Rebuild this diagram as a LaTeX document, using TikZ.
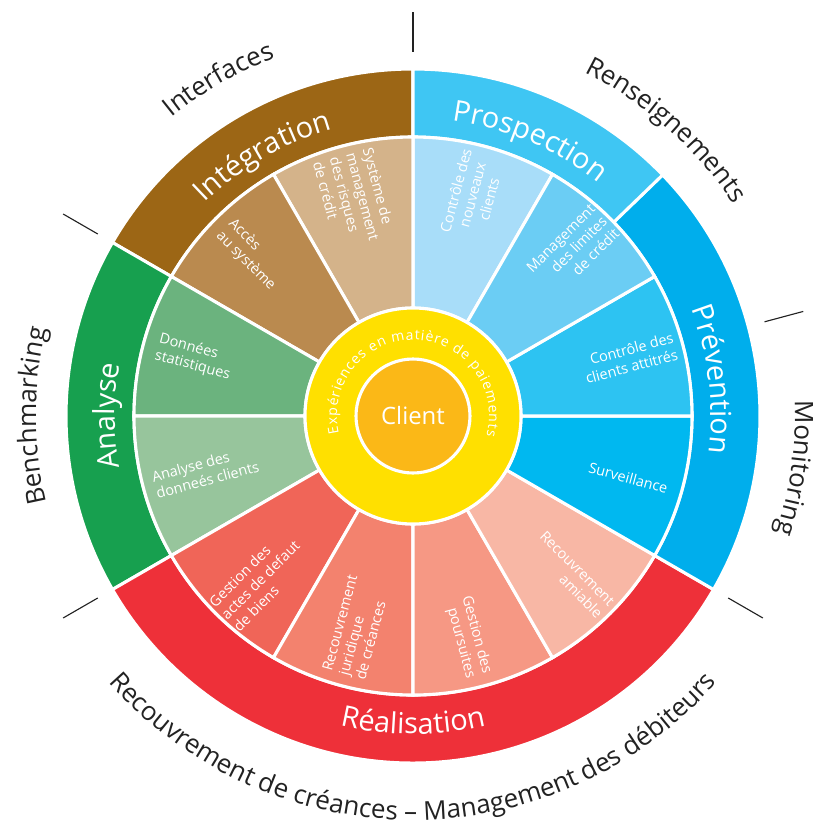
\documentclass[tikz,border=0pt]{standalone}
\usepackage{fontspec}
\setmainfont{Open Sans}
\usetikzlibrary{decorations.text}

\definecolor{integration}{HTML}{9C6615}
\definecolor{systeme}{HTML}{D4B38A}
\definecolor{acces}{HTML}{BA8A4F}
\definecolor{analyse}{HTML}{17A04F}
\definecolor{donnees}{HTML}{6BB37E}
\definecolor{analysedon}{HTML}{97C59C}
\definecolor{realisation}{HTML}{EE3039}
\definecolor{actes}{HTML}{F06558}
\definecolor{juridique}{HTML}{F3826E}
\definecolor{poursuites}{HTML}{F69884}
\definecolor{amiable}{HTML}{F8B7A5}
\definecolor{prevention}{HTML}{00AEEC}
\definecolor{surveillance}{HTML}{00B8F0}
\definecolor{attitres}{HTML}{2DC3F2}
\definecolor{limites}{HTML}{6BCDF4}
\definecolor{nouveaux}{HTML}{A8DDF9}
\definecolor{prospection}{HTML}{3FC6F3}
\definecolor{experiences}{HTML}{FFE000}
\definecolor{client}{HTML}{FBB817}
\definecolor{outertext}{HTML}{222222}

\tikzset{
  sector/.style={fill=#1, draw=white, line width=2.2pt},
  sectortext/.style={text=white, font=\fontsize{10.3}{12.2}\selectfont, inner sep=0pt},
  tickline/.style={line width=0.8pt, draw=outertext},
  outerlabel/.style={decorate, decoration={text along path, text align=center, text color=outertext,
      text={|\fontsize{18.5}{20}\selectfont|#1}}},
  ringlabel/.style={decorate, decoration={text along path, text align=center, text color=white,
      text={|\fontsize{20.6}{22}\selectfont|#1}}},
}

\begin{document}
\begin{tikzpicture}[x=0.025cm, y=0.025cm]
\useasboundingbox (-413,-407) rectangle (399,416);

% Drawing outer ring segment Integration
\draw [sector=integration] (90:279) arc[start angle=90, end angle=150, radius=279] -- (150:347) arc[start angle=150, end angle=90, radius=347] -- cycle;
% Drawing outer ring segment Analyse
\draw [sector=analyse] (150:279) arc[start angle=150, end angle=210, radius=279] -- (210:347) arc[start angle=210, end angle=150, radius=347] -- cycle;
% Drawing outer ring segment Realisation
\draw [sector=realisation] (210:279) arc[start angle=210, end angle=330, radius=279] -- (330:347) arc[start angle=330, end angle=210, radius=347] -- cycle;
% Drawing outer ring segment Prevention
\draw [sector=prevention] (-30:279) arc[start angle=-30, end angle=44, radius=279] -- (44:347) arc[start angle=44, end angle=-30, radius=347] -- cycle;
% Drawing outer ring segment Prospection
\draw [sector=prospection] (44:279) arc[start angle=44, end angle=90, radius=279] -- (90:347) arc[start angle=90, end angle=44, radius=347] -- cycle;

% Drawing sectors of the middle ring
\draw [sector=nouveaux] (60:108) arc[start angle=60, end angle=90, radius=108] -- (90:279) arc[start angle=90, end angle=60, radius=279] -- cycle;
\draw [sector=systeme] (90:108) arc[start angle=90, end angle=120, radius=108] -- (120:279) arc[start angle=120, end angle=90, radius=279] -- cycle;
\draw [sector=acces] (120:108) arc[start angle=120, end angle=150, radius=108] -- (150:279) arc[start angle=150, end angle=120, radius=279] -- cycle;
\draw [sector=donnees] (150:108) arc[start angle=150, end angle=180, radius=108] -- (180:279) arc[start angle=180, end angle=150, radius=279] -- cycle;
\draw [sector=analysedon] (180:108) arc[start angle=180, end angle=210, radius=108] -- (210:279) arc[start angle=210, end angle=180, radius=279] -- cycle;
\draw [sector=actes] (210:108) arc[start angle=210, end angle=240, radius=108] -- (240:279) arc[start angle=240, end angle=210, radius=279] -- cycle;
\draw [sector=juridique] (240:108) arc[start angle=240, end angle=270, radius=108] -- (270:279) arc[start angle=270, end angle=240, radius=279] -- cycle;
\draw [sector=poursuites] (270:108) arc[start angle=270, end angle=300, radius=108] -- (300:279) arc[start angle=300, end angle=270, radius=279] -- cycle;
\draw [sector=amiable] (300:108) arc[start angle=300, end angle=330, radius=108] -- (330:279) arc[start angle=330, end angle=300, radius=279] -- cycle;
\draw [sector=surveillance] (330:108) arc[start angle=330, end angle=360, radius=108] -- (360:279) arc[start angle=360, end angle=330, radius=279] -- cycle;
\draw [sector=attitres] (0:108) arc[start angle=0, end angle=30, radius=108] -- (30:279) arc[start angle=30, end angle=0, radius=279] -- cycle;
\draw [sector=limites] (30:108) arc[start angle=30, end angle=60, radius=108] -- (60:279) arc[start angle=60, end angle=30, radius=279] -- cycle;

% Drawing the two inner circles
\draw [sector=experiences] (0,0) circle[radius=108];
\draw [sector=client] (0,0) circle[radius=57];
\node [text=white, font=\fontsize{17}{18}\selectfont] (client) at (0,0) {Client};

% Text round the yellow ring
\path [decorate, decoration={text along path, text align=fit to path, text color=white,
    text={|\fontsize{10}{11}\selectfont|Expériences en matière de paiements}}]
  (193:76) arc[start angle=193, end angle=-15, radius=76];

% Labels of the middle ring
\node [sectortext, rotate=-75, align=left] (systeme) at (105:225) {Système de\\management\\des risques\\de crédit};
\node [sectortext, rotate=-45, align=left] (acces) at (135:228) {Accès\\au système};
\node [sectortext, rotate=-15, align=left] (donnees) at (165:226) {Données\\statistiques};
\node [sectortext, rotate=15, align=left] (analysedon) at (195:215) {Analyse des\\donneés clients};
\node [sectortext, rotate=45, align=left] (actes) at (227:224) {Gestion des\\actes de defaut\\de biens};
\node [sectortext, rotate=75, align=left] (juridique) at (255:219) {Recouvrement\\juridique\\de créances};
\node [sectortext, rotate=-75, align=right] (poursuites) at (284:228) {Gestion des\\poursuites};
\node [sectortext, rotate=-45, align=right] (amiable) at (315:224) {Recouvrement\\amiable};
\node [sectortext, rotate=-15] (surveillance) at (344:224) {Surveillance};
\node [sectortext, rotate=15, align=right] (attitres) at (15:224) {Contrôle des\\clients attitrés};
\node [sectortext, rotate=45, align=right] (limites) at (46:230) {Management\\des limites\\de crédit};
\node [sectortext, rotate=75, align=center] (nouveaux) at (75:229) {Contrôle des\\nouveaux\\clients};

% Labels of the outer ring
\path [ringlabel=Intégration] (165:298) arc[start angle=165, end angle=75, radius=298];
\path [ringlabel=Prospection] (110:298) arc[start angle=110, end angle=24, radius=298];
\path [ringlabel=Prévention] (50:298) arc[start angle=50, end angle=-36, radius=298];
\path [ringlabel=Analyse] (225:298) arc[start angle=225, end angle=135, radius=298];
\path [ringlabel=Réalisation] (225:318) arc[start angle=225, end angle=315, radius=318];

% Marking the borders outside the wheel
\draw [tickline] (90:364) -- (90:404);
\draw [tickline] (150:364) -- (150:404);
\draw [tickline] (210:364) -- (210:404);
\draw [tickline] (330:364) -- (330:404);
\draw [tickline] (15:364) -- (15:404);

% Labels outside the wheel
\path [outerlabel=Interfaces] (150:384) arc[start angle=150, end angle=90, radius=384];
\path [outerlabel=Renseignements] (88.5:384) arc[start angle=88.5, end angle=8.5, radius=384];
\path [outerlabel=Monitoring] (30:382) arc[start angle=30, end angle=-45.5, radius=382];
\path [outerlabel=Benchmarking] (220:377) arc[start angle=220, end angle=140, radius=377];
\path [outerlabel={Recouvrement de créances – Management des débiteurs}] (200:404) arc[start angle=200, end angle=340, radius=404];
\end{tikzpicture}
\end{document}
